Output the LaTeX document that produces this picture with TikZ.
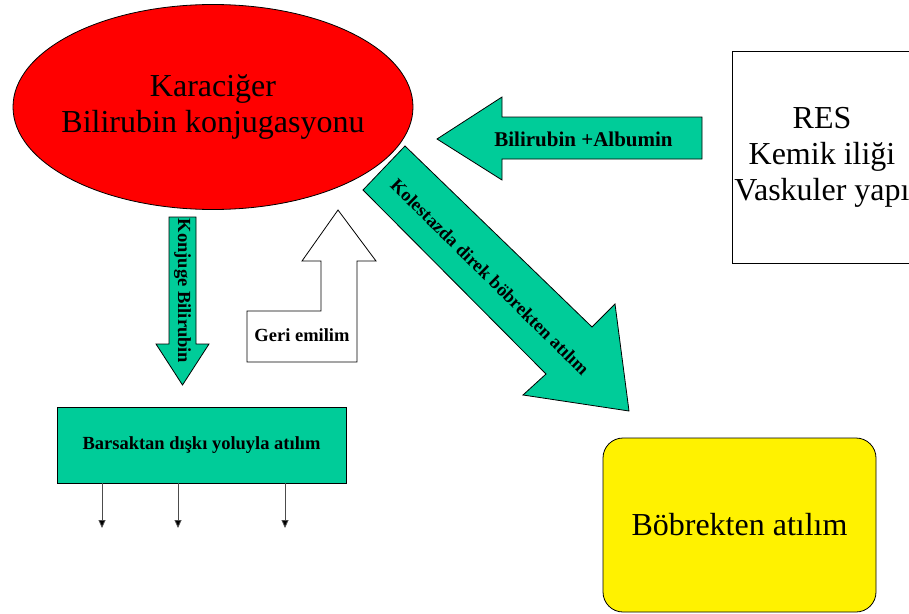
\documentclass[tikz,border=0pt]{standalone}
\usepackage{fontspec}
\setmainfont{Liberation Serif}
\usetikzlibrary{shapes.geometric,arrows.meta}

\definecolor{flowgreen}{RGB}{0,204,153}

\begin{document}
\begin{tikzpicture}[
	x=1pt, y=-1pt,
	line width=0.8pt,
	big text/.style = {font=\fontsize{32}{36}\selectfont, align=center},
	small text/.style = {font=\fontsize{18.5}{22}\selectfont\bfseries},
	organ/.style = {draw, big text, inner sep=0pt},
	block arrow/.style = {draw, fill=flowgreen, line join=miter},
	drop/.style = {draw=black!70, -{Triangle[width=7pt,length=8pt,fill=black]}},
]
	\useasboundingbox (0,0) rectangle (909,613);

	%% The organs
	\node [organ, ellipse, fill=red, inner xsep=-15pt, minimum width=400pt, minimum height=205pt]
		at (213,107) (liver) {Karaciğer\\Bilirubin konjugasyonu};
	\node [organ, rectangle, fill=white, minimum width=180pt, minimum height=212pt]
		at (822,157) (res) {RES\\Kemik iliği\\Vaskuler yapı};
	\node [organ, rectangle, rounded corners=20pt, fill=yellow, minimum width=273pt, minimum height=174pt]
		at (739.5,525) (kidney) {Böbrekten atılım};
	\node [draw, rectangle, fill=flowgreen, small text, minimum width=289pt, minimum height=76pt]
		at (201.5,445) (gut) {Barsaktan dışkı yoluyla atılım};

	%% Block arrows, drawn as outlines with their labels on top
	%% From the RES to the liver
	\draw [block arrow] (702,117) -- (502,117) -- (502,97) -- (437,139)
		-- (502,180) -- (502,159) -- (702,159) -- cycle;
	\node [small text, font=\fontsize{21}{24}\selectfont\bfseries] at (583.5,139) (albumin) {Bilirubin +Albumin};

	%% From the liver down to the gut
	\draw [block arrow] (169,217) -- (196,217) -- (196,344) -- (209,344)
		-- (182.5,385) -- (156,344) -- (169,344) -- cycle;
	\node [small text, rotate=-90] at (182.5,291) (conjugated) {Konjuge Bilirubin};

	%% Back up to the liver
	\draw [block arrow, fill=white] (247,311) -- (321,311) -- (321,261) -- (302,261)
		-- (338,210) -- (376,261) -- (357,261) -- (357,362) -- (247,362) -- cycle;
	\node [small text] at (302,335) (reuptake) {Geri emilim};

	%% From the liver to the kidney
	\draw [block arrow] (405,146) -- (592,327) -- (615,304) -- (629,411)
		-- (523,395) -- (546,374) -- (363,190) -- cycle;
	\node [small text, rotate=-44.6] at (490,277) (cholestasis) {Kolestazda direk böbrekten atılım};

	%% Out of the gut
	\foreach \x [count=\i] in {102,178,285}{%
		\coordinate (out-\i) at (\x,528);
		\draw [drop] (gut.south -| out-\i) -- (out-\i);
	}

\end{tikzpicture}
\end{document}
